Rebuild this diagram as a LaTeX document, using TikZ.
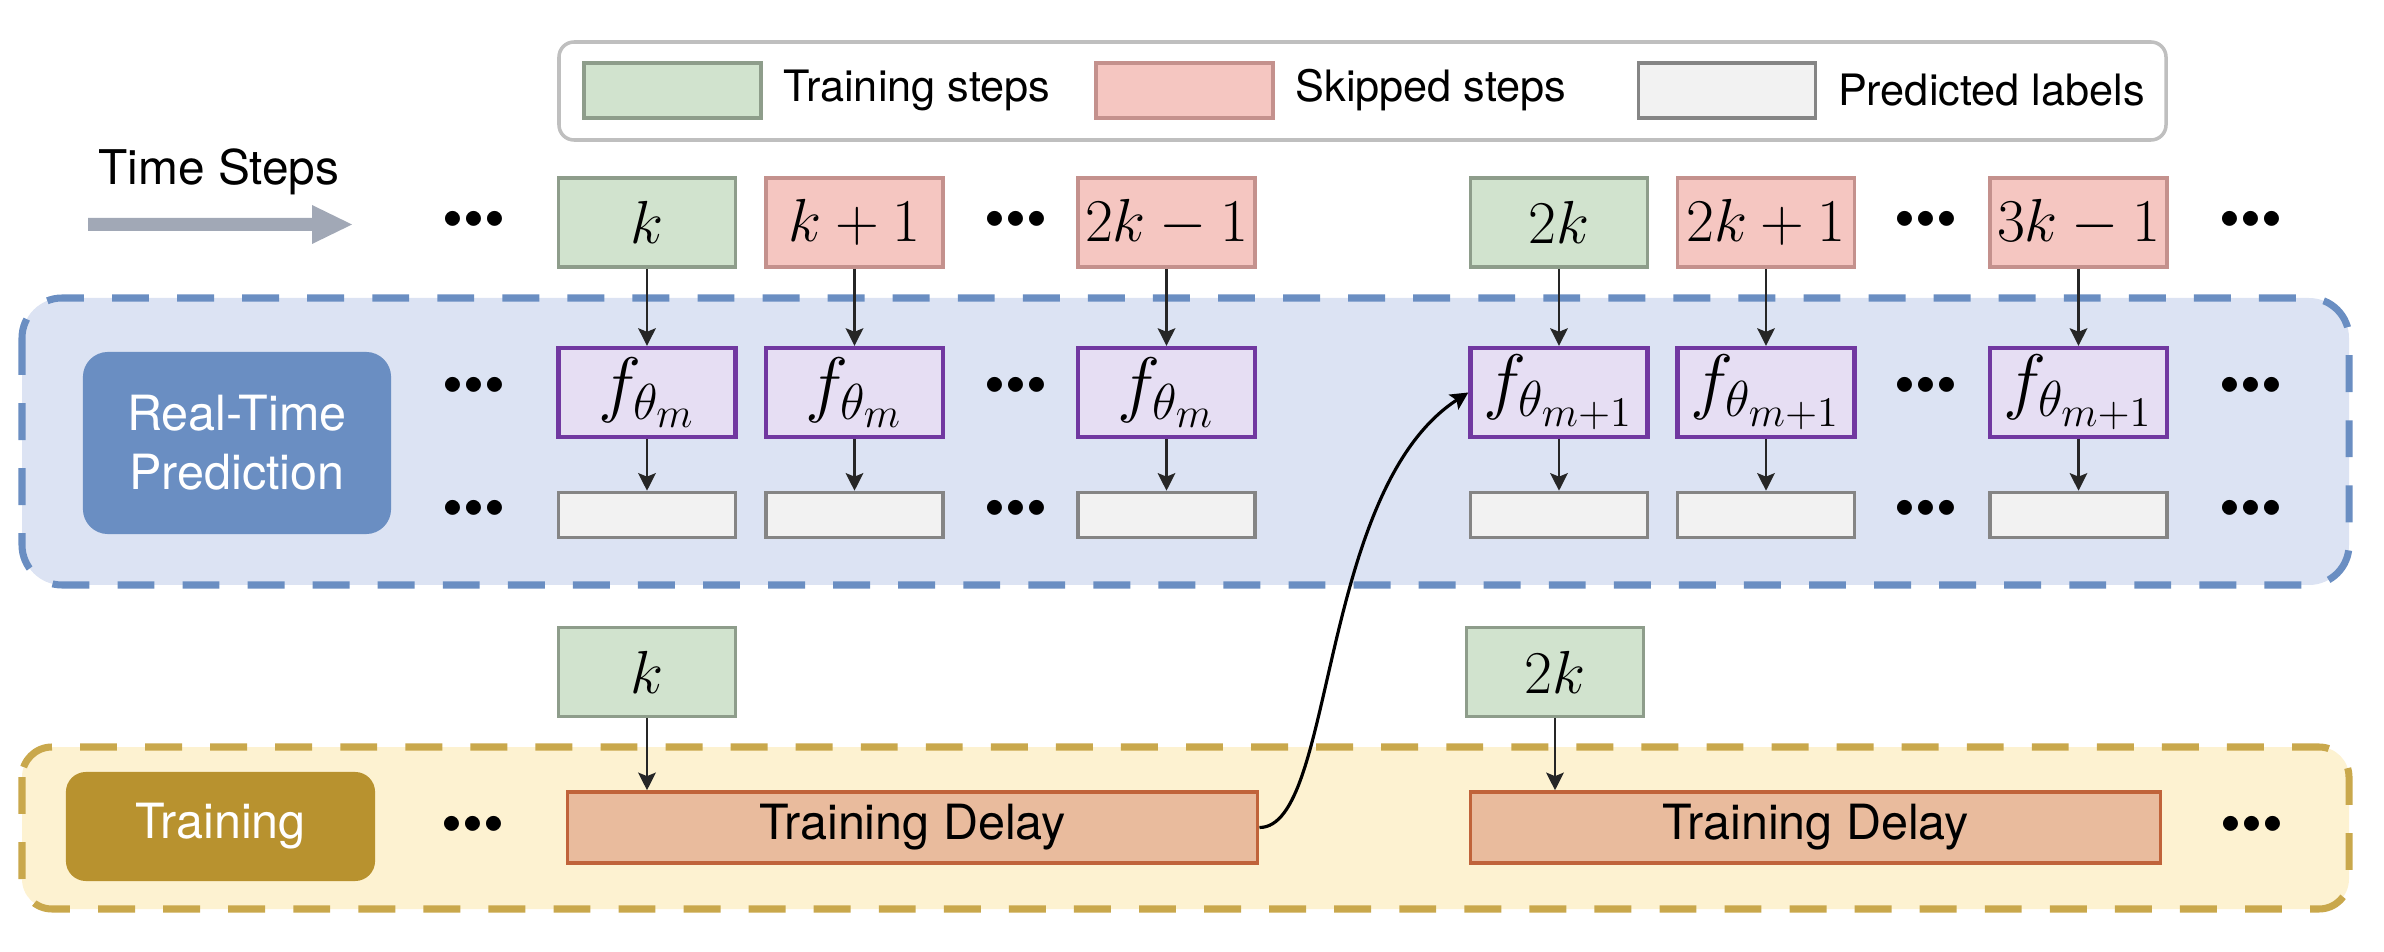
\documentclass[tikz,border=0pt]{standalone}
\usepackage[no-math]{fontspec}
\setmainfont{TeX Gyre Heros}
\usetikzlibrary{arrows.meta,positioning}

\definecolor{stepgreen}{HTML}{D1E3CE}
\definecolor{stepgreenline}{HTML}{8E9D8B}
\definecolor{skipred}{HTML}{F5C6C1}
\definecolor{skipredline}{HTML}{C4918D}
\definecolor{modelfill}{HTML}{E6DEF3}
\definecolor{modelline}{HTML}{7138A0}
\definecolor{predfill}{HTML}{F2F2F2}
\definecolor{predline}{HTML}{858585}
\definecolor{delayfill}{HTML}{E9BB9D}
\definecolor{delayline}{HTML}{C0633A}
\definecolor{rtfill}{HTML}{DCE3F3}
\definecolor{rtline}{HTML}{6A8EC2}
\definecolor{trfill}{HTML}{FDF2D1}
\definecolor{trline}{HTML}{C9A84C}
\definecolor{trtag}{HTML}{B8922F}
\definecolor{timearrow}{HTML}{A1A8B6}

\begin{document}
\begin{tikzpicture}[x=0.01cm, y=-0.01cm,
  trainstep/.style = {shape=rectangle, draw=stepgreenline, fill=stepgreen,
    line width=1pt, minimum width=1.77cm, minimum height=0.89cm,
    inner sep=0pt, font=\LARGE},
  skipstep/.style = {trainstep, draw=skipredline, fill=skipred},
  model/.style = {trainstep, draw=modelline, fill=modelfill,
    line width=1.2pt, font=\huge},
  predlabel/.style = {trainstep, draw=predline, fill=predfill,
    minimum height=0.45cm},
  delay/.style = {shape=rectangle, draw=delayline, fill=delayfill,
    line width=1pt, minimum width=6.9cm, minimum height=0.71cm,
    font=\fontsize{13.8}{16}\selectfont},
  region/.style = {rounded corners=0.4cm, line width=2pt,
    dash pattern=on 10.5pt off 8pt},
  tag/.style = {shape=rectangle, rounded corners=0.25cm, text=white,
    align=center, font=\fontsize{13.8}{16.8}\selectfont},
  legendtext/.style = {right=0.2cm of #1, inner sep=0pt,
    font=\fontsize{12.3}{14}\selectfont},
  dots/.style = {font=\fontsize{17}{17}\selectfont, inner sep=0pt},
  flow/.style = {-{Stealth[length=5pt, width=5pt, inset=1pt]},
    line width=0.7pt, draw=black!85}]
  \useasboundingbox (0,0) rectangle (2384,952);

  % legend
  \draw[draw=black!25, line width=1pt, rounded corners=0.15cm, fill=white]
    (559,42) rectangle (2166,140);
  \node[trainstep, minimum height=0.55cm] (lgtrain) at (672.5,90.5) {};
  \node[legendtext=lgtrain] (lgtraintext) {Training steps};
  \node[skipstep, minimum height=0.55cm] (lgskip) at (1184.5,90.5) {};
  \node[legendtext=lgskip] (lgskiptext) {Skipped steps};
  \node[predlabel, minimum height=0.55cm] (lgpred) at (1727,90.5) {};
  \node[legendtext=lgpred] (lgpredtext) {Predicted labels};

  % time axis
  \node[font=\fontsize{13.6}{16}\selectfont] (timelabel) at (219,172) {Time Steps};
  \fill[timearrow] (88,218) -- (312,218) -- (312,205) -- (352,224.5)
    -- (312,244) -- (312,231) -- (88,231) -- cycle;

  % regions
  \draw[region, draw=rtline, fill=rtfill] (22,298) rectangle (2349,585);
  \draw[region, draw=trline, fill=trfill, rounded corners=0.3cm]
    (22,747) rectangle (2349,909);
  \node[tag, fill=rtline, minimum width=3.08cm, minimum height=1.82cm]
    (rttag) at (237,443) {Real-Time\\Prediction};
  \node[tag, fill=trtag, minimum width=3.09cm, minimum height=1.09cm,
    rounded corners=0.2cm] (trtag) at (220.5,826.5) {Training};

  % time steps
  \node[trainstep] (s1) at (647,222.5) {$k$};
  \node[skipstep] (s2) at (854.5,222.5) {$k+1$};
  \node[skipstep] (s3) at (1166.5,222.5) {$2k-1$};
  \node[trainstep] (s4) at (1559,222.5) {$2k$};
  \node[skipstep] (s5) at (1766,222.5) {$2k+1$};
  \node[skipstep] (s6) at (2078.5,222.5) {$3k-1$};

  % models
  \node[model] (f1) at (647,392.5) {$f_{\theta_m}$};
  \node[model] (f2) at (854.5,392.5) {$f_{\theta_m}$};
  \node[model] (f3) at (1166.5,392.5) {$f_{\theta_m}$};
  \node[model] (f4) at (1559,392.5) {$f_{\theta_{m+1}}$};
  \node[model] (f5) at (1766,392.5) {$f_{\theta_{m+1}}$};
  \node[model] (f6) at (2078.5,392.5) {$f_{\theta_{m+1}}$};

  % predicted labels
  \node[predlabel] (p1) at (647,515) {};
  \node[predlabel] (p2) at (854.5,515) {};
  \node[predlabel] (p3) at (1166.5,515) {};
  \node[predlabel] (p4) at (1559,515) {};
  \node[predlabel] (p5) at (1766,515) {};
  \node[predlabel] (p6) at (2078.5,515) {};

  % training
  \node[trainstep] (klow1) at (647,672) {$k$};
  \node[trainstep] (klow2) at (1555,672) {$2k$};
  \node[delay] (delay1) at (912.5,827.5) {Training Delay};
  \node[delay] (delay2) at (1815.5,827.5) {Training Delay};

  % dots
  \node[dots] (sdots1) at (474,225) {•••};
  \node[dots] (sdots2) at (1016,225) {•••};
  \node[dots] (sdots3) at (1926,225) {•••};
  \node[dots] (sdots4) at (2251,225) {•••};
  \node[dots] (fdots1) at (474,391) {•••};
  \node[dots] (fdots2) at (1016,391) {•••};
  \node[dots] (fdots3) at (1926,391) {•••};
  \node[dots] (fdots4) at (2251,391) {•••};
  \node[dots] (pdots1) at (474,514) {•••};
  \node[dots] (pdots2) at (1016,514) {•••};
  \node[dots] (pdots3) at (1926,514) {•••};
  \node[dots] (pdots4) at (2251,514) {•••};
  \node[dots] (tdots1) at (473,830) {•••};
  \node[dots] (tdots2) at (2252,830) {•••};

  % connectors
  \draw[flow] (s1) -- (f1);
  \draw[flow] (s2) -- (f2);
  \draw[flow] (s3) -- (f3);
  \draw[flow] (s4) -- (f4);
  \draw[flow] (s5) -- (f5);
  \draw[flow] (s6) -- (f6);
  \draw[flow] (f1) -- (p1);
  \draw[flow] (f2) -- (p2);
  \draw[flow] (f3) -- (p3);
  \draw[flow] (f4) -- (p4);
  \draw[flow] (f5) -- (p5);
  \draw[flow] (f6) -- (p6);
  \draw[flow] (klow1) -- (klow1 |- delay1.north);
  \draw[flow] (klow2) -- (klow2 |- delay2.north);
  \draw[flow, draw=black, line width=0.9pt]
    (delay1.east) .. controls +(76,0) and +(-151,98) .. (f4.west);
\end{tikzpicture}
\end{document}
